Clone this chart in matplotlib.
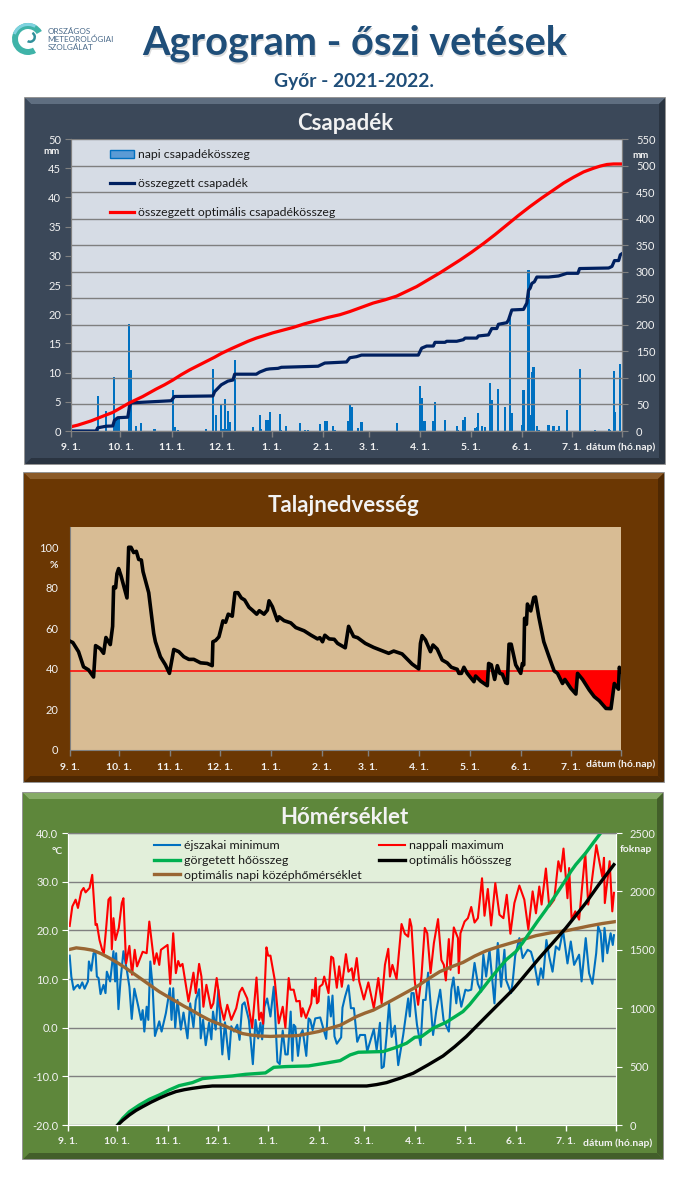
import matplotlib
matplotlib.use("Agg")
import matplotlib.pyplot as plt
from matplotlib.patches import Rectangle, Polygon, Wedge, Patch

plt.rcParams['font.family'] = ['Lato', 'DejaVu Sans']

W, H = 691, 1182

# x axis: position along the chart, 0 = 9. 1., 330 = right edge
month_days = [0, 29.6, 60.3, 90.2, 120.5, 151, 178.5, 209, 239.5, 270, 300, 330]
month_labels = ['9. 1.', '10. 1.', '11. 1.', '12. 1.', '1. 1.', '2. 1.', '3. 1.', '4. 1.', '5. 1.', '6. 1.', '7. 1.', '']

# daily precipitation (mm)
rain_days = [16, 21, 26, 27, 28, 29, 35, 36, 39, 42, 50, 61, 62, 64, 81, 85, 87, 90, 91, 92, 93, 94, 95, 98,
             109, 113, 114, 117, 118, 119, 125, 126, 129, 137, 140, 142, 149, 152, 153, 157, 158, 166, 167, 168,
             172, 174, 195, 209, 210, 211, 212, 217, 218, 224, 231, 232, 235, 236, 242, 243, 244, 246, 248,
             251, 252, 256, 260, 263, 264, 270, 271, 274, 275, 276, 277, 279, 280, 286, 289, 291, 292, 297,
             305, 314, 322, 323, 325, 326, 329]
rain_mm = [6.0, 3.5, 9.3, 1.8, 2.0, 2.2, 18.4, 10.5, 0.9, 1.4, 0.3, 7.1, 0.6, 0.2, 0.4, 10.7, 2.7, 4.7, 0.3, 5.4, 0.3, 3.5, 1.5, 12.2,
           0.7, 2.8, 0.4, 1.8, 1.8, 3.2, 2.9, 0.2, 0.9, 1.4, 0.2, 0.2, 1.2, 1.7, 1.7, 0.9, 0.2, 1.7, 4.6, 4.1,
           0.5, 1.5, 1.4, 7.7, 5.7, 1.7, 1.7, 1.7, 5.0, 1.9, 0.9, 0.2, 1.9, 2.4, 0.5, 0.6, 3.1, 0.9, 0.6,
           8.2, 5.3, 7.2, 4.1, 19.5, 3.1, 1.0, 7.0, 27.6, 2.7, 10.1, 11.0, 0.9, 0.2, 1.0, 0.9, 0.2, 0.9, 3.6,
           10.6, 0.2, 0.3, 0.2, 10.3, 3.3, 11.5]

# cumulative precipitation (mm)
cum_days = [0, 15, 16, 21, 25, 26, 28, 34, 35, 36, 60, 62, 85, 86, 90, 94, 97, 98, 111, 113, 117, 119, 124, 126, 148, 152,
            165, 167, 171, 174, 208, 210, 213, 217, 218, 224, 225, 231, 235, 236, 243, 244, 250, 252, 255, 256, 261, 262, 264,
            271, 273, 274, 275, 276, 277.5, 279, 286, 292, 297, 303.6, 304.6, 322, 324, 325.5, 328, 329, 330]
cum_mm = [0, 0, 6, 9, 9.5, 20, 25, 26, 46, 53, 57, 65, 66, 74, 87, 94, 96, 107, 107, 111, 116, 117, 118, 120, 122, 128,
          130, 138, 140, 143, 143, 156, 160, 160, 167, 167, 169, 169, 172, 175, 175, 179, 181, 193, 193, 201, 204, 209, 228,
          229, 241, 265, 269, 278, 281, 290, 290, 292, 297, 297, 306, 307, 310, 321, 321, 332, 334]

# optimal cumulative precipitation (mm)
opt_days = [0, 4, 8, 12, 16, 20, 25, 30, 35, 39, 43, 47, 51, 56, 61, 66, 71, 76, 81, 86, 90, 96, 101, 106, 111, 116, 121, 127, 133, 140,
            147, 154, 161, 167, 174, 181, 188, 195, 201, 207, 214, 221, 227, 233, 240, 247, 254, 261, 268, 275, 282, 289, 295, 301, 307,
            313, 317, 321, 325, 330]
opt_mm = [8, 11, 15, 19, 24, 29, 35, 44, 53, 59, 65, 72, 79, 87, 96, 106, 115, 123, 131, 139, 146, 155, 162, 169, 175, 180, 185, 190, 195, 202,
          208, 214, 219, 225, 233, 241, 247, 254, 263, 272, 285, 298, 310, 322, 337, 353, 370, 388, 406, 423, 439, 454, 467, 478, 488,
          495, 499, 502, 503, 503]

# soil moisture (%)
soil_days = [0, 2, 5.4, 8.4, 11.4, 14.4, 15.6, 18.4, 20.4, 21.8, 24.4, 25.8, 26.4, 27.6, 28.4, 29.4, 30.8, 34.4, 35.4, 36.8,
             38.4, 40, 41.4, 43, 44, 47.4, 50.4, 51.4, 54.4, 57.4, 59.8, 62.4, 65.4, 68.4, 71.4, 74.4, 78.4, 82.4, 85.4, 85.8,
             87.4, 89.4, 90.4, 91.8, 93.4, 95, 97.4, 99, 100.8, 102.8, 104.8, 107.4, 109.4, 112, 113.6, 116.4, 118.4, 119.4,
             121.4, 124.4, 125.4, 128.4, 132.4, 135.4, 140.4, 144.4, 148.4, 149.8, 151.4, 152.8, 155.4, 158.4, 160.4, 165, 167,
             170, 172.4, 177, 182, 187, 191, 194, 199, 205, 209, 210, 211, 213, 216, 217.5, 220, 223, 226, 228.5, 232, 233, 234.5,
             236, 238, 242, 243, 246, 250, 250.8, 252.4, 254.4, 256, 257.5, 259, 261, 262, 263, 264.3, 267, 270, 271, 271.8,
             272.3, 273.4, 274, 276, 277.8, 278.8, 280.8, 283.8, 286.8, 290, 292, 295, 296.4, 300, 303, 304, 307, 311, 314, 317,
             321, 324, 326, 328.5, 329, 330]
soil_pct = [53.8, 53, 48.5, 41, 39.5, 36, 51.5, 50, 47.7, 55.5, 52, 61, 80.5, 80, 87, 89.5, 86, 75, 100, 100,
            97.4, 98, 94, 93.7, 88, 77.6, 57.5, 53.4, 46, 42, 37.8, 49.6, 48.5, 46, 44.7, 44.7, 43, 42.7, 41.6, 53.4,
            54, 55.8, 59, 63.7, 63, 67, 66, 77.6, 77.6, 75, 74, 70.4, 69, 67, 68.7, 67, 69, 73.6,
            70.7, 63.8, 65.7, 63.8, 62.7, 60.4, 58.8, 56.7, 54.8, 55.4, 53.4, 56.6, 54.8, 54.6, 52.6, 50.4, 61,
            56, 55.4, 52.6, 50.6, 49, 47.7, 48.8, 47.4, 42.4, 40, 52.6, 56.4, 54.3, 48.5, 51.8, 49.8, 44.4, 43, 40.8, 39.8, 37.8, 37.8,
            40.8, 37.8, 33.7, 36.5, 34, 31.7, 42.7, 42, 34.8, 41.6, 37.8, 37.4, 33.2, 32.8, 52.2, 52.2, 42, 37.8, 42.7, 42,
            65, 62, 72, 68.6, 75.2, 75.5, 65.7, 53.4, 46.3, 39, 37.8, 32.8, 34.8, 30.4, 27.6, 37.8, 34.8, 29.6, 26.3, 24.3,
            20.5, 20.4, 32.8, 30, 40.8, 38.6]
soil_limit = 39.2

# night minimum (C)
tmin_days = [1, 2, 3.4, 4.6, 6, 7, 8.6, 10, 12, 12.6, 14, 15.4, 16.6, 17.4, 18.4, 19.6, 21.4, 22.6, 23.4, 25.4, 27.4, 28.4, 29, 30.4, 31.6, 33.4, 35.6, 37,
             38.4, 40, 42.4, 44, 45, 46, 47.4, 48.4, 49.6, 51, 52.4, 55, 56.4, 59, 61.4, 62.4, 63.4, 64.6, 66, 68, 69.6, 72, 73.6, 75.6, 77, 79, 80, 81.4, 83, 85,
             86.4, 87.4, 89, 90.6, 93, 94.6, 97, 98.4, 100, 102, 103.4, 105, 106.4, 109, 111.4, 113, 114.6, 116, 117, 118.4, 120, 122, 124, 125, 126.2, 127.6,
             129.4, 131, 132.4, 134.2, 135.2, 136, 137, 138.6, 140, 141.4, 143.6, 145, 146, 147.4, 149, 152, 155.6, 157, 158.4, 159.4, 160.6, 162, 164.6, 165.4,
             167, 169, 170.5, 172.3, 174.3, 176, 179, 180.3, 184.3, 186, 188, 189, 190.3, 192, 193.5, 195, 197, 199, 202, 205, 206, 207, 208.3, 210.3, 212.5, 214,
             215.5, 217, 220, 222, 224.3, 226.3, 229.5, 231, 232.3, 234, 235, 237, 239.5, 241, 243, 245, 247, 249, 250.3, 252, 254, 257, 259, 261, 263, 264, 267,
             268, 269.5, 272, 274, 277, 279, 281, 283.3, 285, 286.3, 288.3, 290, 292, 294, 296, 298.3, 301, 303, 305, 308, 309.5, 312, 314, 316, 318.3, 319.5, 321,
             322.3, 323.3, 325, 327, 328.3, 329]
tmin_c = [14.8, 10.5, 7.8, 8.4, 8.8, 8.1, 9.3, 8, 9.5, 13.6, 11.7, 15.3, 15.3, 10.5, 10.2, 6.9, 8.8, 7.1, 11.5, 9.5, 15.7, 9.5, 15.3, 3.8, 9.5, 15.7, 11.5, 8.4,
          1.8, 8, 4.3, 1.6, 3.6, -0.8, 4.3, 1.6, 13.6, 8.4, -1.7, 1.3, -0.8, 3, 8.1, 1.6, 8.1, 0, 5.7, -0.4, 3.1, -2.2, 5, 0.1, 5.6, 7.9, -2.2, 1.6, -3.6, 1,
          -2.4, 3.3, -0.4, 7.8, -5.5, 1.1, -6.5, 0.3, -0.8, 0.6, -2.5, 4.7, 5.2, 1.6, -7.5, 1.6, -2.2, 1, -2.4, 4.3, 6, 2.3, 8.4, 1.6, -7, -7.5,
          -0.6, -5.5, -5.5, 3.3, -6.8, 0.6, 0.2, -5.8, -1.5, -0.5, -5.8, 1.9, 1.6, -0.5, 1.9, 2.1, -2.3, 6.4, 2.3, 6.6, -1.8, -3.3, -2, 4.1,
          6.4, 8.7, 4, 4, -2.9, -1.5, -1.5, -4.9, -0.3, -4.6, 1, -8.3, -8, -1.5, 5, -1.9, 0.4, -7.7, -1.5, 6, 2.3, 7.1, 7.1, 0.6, -3.6, 5.7,
          5.7, 11.3, -1.5, 3.6, 7.8, 1.6, -0.8, 7.8, 10.3, 5, 8.4, 4.3, 7.8, 7.6, 7.8, 13.3, 9, 7.4, 15, 10.5, 16, 5, 17.4, 8.4, 16, 9.8, 7.1,
          9.5, 14.8, 18.4, 14.3, 16, 15.6, 13.2, 8.8, 12.2, 10.2, 18, 14.6, 11.5, 16.7, 16, 20, 13.2, 17.7, 12.9, 15, 9.5, 18.4, 11.2, 9, 15.3, 20.8, 19.4,
          13.6, 20.5, 15.3, 19.4, 17, 19]

# day maximum (C)
tmax_days = [1, 2.6, 4.6, 6, 8, 9.4, 10.6, 13, 14.6, 16.6, 17.4, 19, 20.6, 21.6, 23, 24.4, 25.6, 26.4, 27.4, 28.6, 30.6, 32.4, 33.4, 35, 37, 38.6, 40.2, 41.6,
             45, 47.4, 49, 52, 53.4, 55, 56, 60, 61.6, 63.4, 65, 66.4, 67.6, 69, 72.6, 75.6, 77, 79, 80.4, 81.6, 83.4, 86.2, 87.6, 89.6, 92, 94, 96, 98.4, 101.4,
             103.4, 105, 108, 111, 113.6, 115.2, 116.4, 117.6, 119.6, 120.6, 122, 124.6, 127, 129.4, 131, 133, 134, 136, 137.6, 139.6, 140.6, 141.4, 143.4, 146.6,
             147.2, 148.4, 149.2, 150, 151, 151.6, 153.4, 154.4, 157, 158.6, 159.8, 162, 163.4, 165, 167.5, 169, 171, 172, 174, 175.5, 178.3, 181, 184.3, 187, 189,
             191, 193, 194, 195.5, 198, 201, 203, 205, 206, 207, 209, 211, 213, 215, 216.5, 218.5, 220.5, 223, 225, 226.5, 227.7, 229.5, 230.5, 232.5, 235, 235.5,
             236.5, 239, 241, 243, 245, 247, 249.5, 251, 253, 255, 257.5, 260, 262.4, 264.4, 266.6, 269, 272, 275, 277.4, 280, 282, 284, 285.4, 288, 290, 293, 295.5,
             297, 298.6, 301, 302, 303.5, 305.7, 308, 311.7, 313.5, 315, 318.4, 320.4, 322, 323, 323.5, 326.4, 328, 329]
tmax_c = [20.9, 24.9, 26.3, 24.6, 28, 28.7, 27.8, 28.7, 31.4, 21.1, 21.3, 18, 16, 15.3, 20.5, 26.3, 26.8, 16.1, 22.5, 18, 20.5, 25.6, 26.6, 13.2, 16.8, 10.9, 16, 12.6,
          15.6, 15.3, 21.8, 13.1, 15.3, 12.9, 16, 17, 9, 19.4, 11.2, 13.7, 12.6, 13.1, 5.4, 11.3, 7.1, 13.1, 10.5, 4.3, 8.8, 4, 5, 10.2, 4.3, 1.6, 4.7, 1.6, 4,
          7.3, 8.2, 6, 0, 10.3, 1.6, 3.1, 0.8, 16.5, 14.8, 14.8, 9.8, 0.9, 4.3, 0, 10.2, 7.8, 7.8, 5.4, 5.5, 2.3, 4, 2, 5,
          7.8, 6.4, 10.2, 5, 5.4, 8.4, 8.9, 10.5, 7.1, 14.6, 14.3, 8.2, 12.6, 8.4, 15.1, 11.5, 12.2, 9.7, 14.3, 9.5, 5.8, 9.3, 4, 10.2, 5,
          12.9, 16.2, 10.5, 12.9, 10, 21.3, 19.3, 18.7, 22.3, 20.8, 9.5, 4.7, 10.5, 20.5, 19.4, 11.2, 17.4, 22.3, 13.9, 12.9, 9.7, 18.2, 11.9, 20.6, 18.4, 11.2,
          19.4, 21.8, 22.5, 24.8, 21.6, 22.5, 30.7, 23, 28.5, 21, 29.7, 23.2, 22.5, 27.3, 19.3, 25.6, 29.2, 26.3, 20.2, 28, 23.5, 29, 25.3, 32.7, 24.9, 26.3, 34.2,
          32.1, 36.8, 26.6, 32.8, 22.2, 23.9, 22.2, 35.9, 25.3, 28.3, 37.5, 33.8, 31, 34.9, 25.6, 34.2, 23.9, 27.7]

# optimal daily mean (C)
tmean_days = [0, 2.5, 5, 10, 15, 20, 25, 30, 35, 40, 45, 50, 55, 60, 65, 70, 75, 80, 85, 90, 95, 100, 105, 110, 115, 122, 129, 134, 139, 145, 151, 157,
              164, 169, 174, 179, 184, 189, 194, 202, 210, 217, 224, 231, 238, 245, 252, 260, 268, 275, 282, 291, 300, 307, 314, 322, 330]
tmean_c = [16, 16.2, 16.4, 16.2, 15.9, 15.2, 14.3, 13.3, 12.2, 11, 9.8, 8.6, 7.4, 6.4, 5.4, 4.4, 3.5, 2.5, 1.6, 0.9, 0.3, -0.5, -1.2, -1.5, -1.7, -1.8, -1.7, -1.7, -1.6, -1.2, -0.8, -0.2,
           0.5, 1.4, 2.3, 3, 3.6, 4.5, 5.4, 6.9, 8.4, 10, 11.5, 12.5, 13.4, 14.7, 15.8, 16.7, 17.5, 18.2, 18.9, 19.5, 19.9, 20.4, 20.9, 21.4, 21.8]

# rolling heat sum (foknap)
heat_days = [30, 33, 37, 43, 49, 55, 61, 67, 75, 81, 89, 99, 107, 119, 124, 131, 145, 155, 164, 170, 175, 190, 198, 204, 209, 213, 220, 228,
             238, 242, 246, 250, 254, 259, 264, 270, 274, 278, 283, 288, 294, 300, 303, 306, 312, 317, 321]
heat_sum = [0, 57, 114, 171, 220, 257, 300, 337, 363, 397, 409, 420, 434, 446, 494, 500, 506, 529, 551, 600, 623, 629, 666, 700, 751, 757, 829, 880,
            971, 1030, 1100, 1170, 1243, 1330, 1414, 1486, 1560, 1643, 1745, 1843, 1970, 2100, 2170, 2229, 2329, 2425, 2500]

# optimal heat sum (foknap)
opt_heat_days = [30, 33, 37, 41, 45, 50, 55, 60, 65, 70, 75, 81, 87, 99, 164, 180, 186, 192, 200, 208, 217, 226, 233, 240, 246, 252,
                 260, 268, 276, 284, 292, 300, 306, 312, 320, 329]
opt_heat_sum = [0, 40, 86, 125, 157, 195, 229, 260, 286, 302, 314, 326, 334, 334, 334, 334, 346, 363, 400, 443, 515, 591, 670, 757, 843, 929,
                1043, 1157, 1293, 1429, 1557, 1686, 1793, 1900, 2060, 2229]

TICK_COL = '#F2F2F2'
AX_GRAY = '#808080'

fig = plt.figure(figsize=(W / 100, H / 100), dpi=100, facecolor='white')
bg = fig.add_axes([0, 0, 1, 1])
bg.set_xlim(0, W)
bg.set_ylim(H, 0)
bg.axis('off')


def px_axes(x0, y0, x1, y1):
    return fig.add_axes([x0 / W, 1 - y1 / H, (x1 - x0) / W, (y1 - y0) / H])


def draw_panel(x0, y0, x1, y1, color, light, dark):
    bev = 6
    bg.add_patch(Rectangle((x0, y0), x1 - x0, y1 - y0, fc=color, ec='#7F7F7F', lw=1.2))
    bg.add_patch(Polygon([(x0, y0), (x1, y0), (x1 - bev, y0 + bev), (x0 + bev, y0 + bev)], fc=light, ec='none'))
    bg.add_patch(Polygon([(x0, y1), (x1, y1), (x1 - bev, y1 - bev), (x0 + bev, y1 - bev)], fc=dark, ec='none'))
    bg.add_patch(Polygon([(x1, y0), (x1, y1), (x1 - bev, y1 - bev), (x1 - bev, y0 + bev)], fc=dark, ec='none'))
    bg.add_patch(Polygon([(x0, y0), (x0, y1), (x0 + bev, y1 - bev), (x0 + bev, y0 + bev)], fc=color, ec='none'))


def style_x(ax, col):
    ax.set_xlim(0, 330)
    ax.set_xticks(month_days)
    ax.set_xticklabels(month_labels)
    ax.tick_params(axis='x', colors=col, labelcolor=TICK_COL, labelsize=7.5, length=4, width=1, pad=5)
    for lab in ax.get_xticklabels():
        lab.set_fontweight('bold')


def white_text(x, y, s, size=8, ha='center', weight='bold'):
    bg.text(x, y, s, color=TICK_COL, fontsize=size, ha=ha, va='center', fontweight=weight)


# header
bg.add_patch(Wedge((28, 39), 16, 60, 330, width=6, fc='#3FB3A8', ec='none'))
bg.add_patch(Wedge((28, 39), 16, 200, 300, width=3, fc='#7FD3E0', ec='none'))
bg.add_patch(Wedge((30, 37), 6, 300, 120, width=2.5, fc='#2F8F9A', ec='none'))
for yy, txt in zip([31, 39, 47], ['ORSZÁGOS', 'METEOROLÓGIAI', 'SZOLGÁLAT']):
    bg.text(47.5, yy, txt, fontsize=5.9, color='#4A6A8A', ha='left', va='center')
bg.text(355.5, 45, 'Agrogram - őszi vetések', fontsize=28.5, fontweight='bold', color='#DDDDDD', ha='center', va='center')
bg.text(354.5, 43.5, 'Agrogram - őszi vetések', fontsize=28.5, fontweight='bold', color='#1F4E79', ha='center', va='center')
bg.text(354, 81, 'Győr - 2021-2022.', fontsize=13.9, fontweight='bold', color='#1F4E79', ha='center', va='center')

# precipitation panel
draw_panel(25, 98, 665, 464, '#3B4859', '#5F6E80', '#2A3441')
white_text(345, 124, 'Csapadék', size=16)
ax1 = px_axes(71, 139, 622, 431)
ax1.set_facecolor('#D6DCE5')
ax1.bar(rain_days, rain_mm, width=1.25, color='#0070C0', zorder=2)
ax1.set_ylim(0, 50)
ax1.set_yticks(range(0, 51, 5))
ax1.tick_params(axis='y', colors=AX_GRAY, labelcolor=TICK_COL, labelsize=8, length=4, pad=3)
style_x(ax1, AX_GRAY)
ax1b = ax1.twinx()
ax1b.set_ylim(0, 550)
ax1b.set_yticks(range(0, 551, 50))
ax1b.grid(axis='y', color='#7F7F7F', lw=1)
ax1b.tick_params(axis='y', colors=AX_GRAY, labelcolor=TICK_COL, labelsize=8, length=4, pad=6)
l_cum, = ax1b.plot(cum_days, cum_mm, color='#002060', lw=2.3, solid_joinstyle='round')
l_opt, = ax1b.plot(opt_days, opt_mm, color='#FF0000', lw=2.3)
for a in (ax1, ax1b):
    a.spines['top'].set_visible(False)
    for s in ('left', 'right', 'bottom'):
        a.spines[s].set_color(AX_GRAY)
leg1 = ax1b.legend([Patch(fc='#5B9BD5', ec='#0070C0'), l_cum, l_opt],
                   ['napi csapadékösszeg', 'összegzett csapadék', 'összegzett optimális csapadékösszeg'],
                   loc='upper left', bbox_to_anchor=(0.05, 1.002), frameon=False, fontsize=8.8,
                   labelspacing=1.45, handlelength=2.0, handletextpad=0.3, labelcolor='#1A1A1A')
white_text(52, 152, 'mm', size=7)
white_text(641, 155, 'mm', size=7)
white_text(621, 447, 'dátum (hó.nap)', size=7.5)

# soil moisture panel
draw_panel(24, 473, 664, 782, '#6B3703', '#8B5A28', '#4E2802')
white_text(344, 506, 'Talajnedvesség', size=16)
ax2 = px_axes(69.5, 527, 621, 750)
ax2.set_facecolor('#D8BC94')
ax2.fill_between(soil_days, soil_pct, soil_limit, where=[v < soil_limit for v in soil_pct],
                 interpolate=True, color='#FF0000', lw=0, zorder=2)
ax2.plot([0, 330], [soil_limit, soil_limit], color='#FF0000', lw=1.1, zorder=3)
ax2.plot(soil_days, soil_pct, color='black', lw=2.6, zorder=4)
ax2.set_ylim(0, 110)
ax2.set_yticks(range(0, 101, 20))
ax2.tick_params(axis='y', length=0, labelcolor=TICK_COL, labelsize=8, pad=8)
style_x(ax2, AX_GRAY)
ax2.spines['top'].set_visible(False)
ax2.spines['right'].set_visible(False)
ax2.spines['left'].set_color(AX_GRAY)
ax2.spines['bottom'].set_color(AX_GRAY)
white_text(54, 566, '%', size=7.5)
white_text(621, 764, 'dátum (hó.nap)', size=7.5)

# temperature panel
draw_panel(23, 793, 663, 1159, '#5E873B', '#86AB66', '#435F2A')
white_text(344, 818, 'Hőmérséklet', size=16)
ax3 = px_axes(68, 833, 615.6, 1125)
ax3.set_facecolor('#E2EFDA')
l_min, = ax3.plot(tmin_days, tmin_c, color='#0070C0', lw=1.5)
l_max, = ax3.plot(tmax_days, tmax_c, color='#FF0000', lw=1.5)
l_mean, = ax3.plot(tmean_days, tmean_c, color='#996633', lw=2.4)
ax3.set_ylim(-20, 40)
ax3.set_yticks(range(-20, 41, 10))
ax3.set_yticklabels(['%.1f' % v for v in range(-20, 41, 10)])
ax3.grid(axis='y', color='#808080', lw=1)
ax3.set_axisbelow(True)
ax3.tick_params(axis='y', colors='white', labelcolor=TICK_COL, labelsize=8, length=4, pad=3)
style_x(ax3, 'white')
ax3b = ax3.twinx()
ax3b.set_ylim(0, 2500)
ax3b.set_yticks(range(0, 2501, 500))
ax3b.tick_params(axis='y', colors='white', labelcolor=TICK_COL, labelsize=8, length=4, pad=6)
l_heat, = ax3b.plot(heat_days, heat_sum, color='#00B050', lw=2.4)
l_oheat, = ax3b.plot(opt_heat_days, opt_heat_sum, color='black', lw=2.4)
for a in (ax3, ax3b):
    a.spines['top'].set_color(AX_GRAY)
    for s in ('left', 'right', 'bottom'):
        a.spines[s].set_color('white')
ax3b.legend([l_min, l_heat, l_mean, l_max, l_oheat],
            ['éjszakai minimum', 'görgetett hőösszeg', 'optimális napi középhőmérséklet',
             'nappali maximum', 'optimális hőösszeg'],
            ncol=2, loc='upper left', bbox_to_anchor=(0.1365, 1.013), frameon=False, fontsize=8.9,
            labelspacing=0.3, handlelength=2.1, handletextpad=0.35, columnspacing=1.4, labelcolor='#1A1A1A')
white_text(57, 852, '°C', size=7.5)
white_text(636, 850, 'foknap', size=7.5)
white_text(618, 1143, 'dátum (hó.nap)', size=7.5)

fig.savefig('out.png', dpi=100, facecolor='white')
